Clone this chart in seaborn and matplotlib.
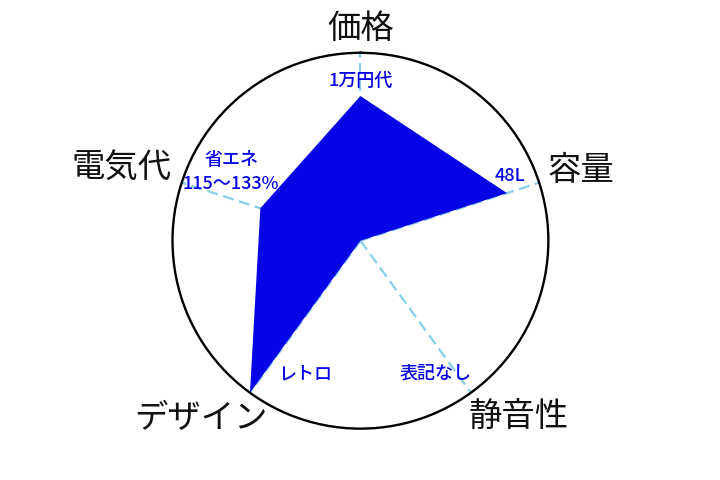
import numpy as np
import matplotlib
matplotlib.use("Agg")
import matplotlib.pyplot as plt
import seaborn as sns

# ---- data ----
categories = ["価格", "容量", "静音性", "デザイン", "電気代"]
values = [0.77, 0.82, 0.0, 1.0, 0.56]
value_labels = ["1万円代", "48L", "表記なし", "レトロ", "省エネ\n115〜133%"]
r_max = 1.0

sns.set_theme(style="white")
plt.rcParams["font.family"] = ["Noto Sans CJK JP", "DejaVu Sans"]

fig = plt.figure(figsize=(7.2, 4.8), dpi=100)
ax = fig.add_axes([0.2396, 0.107, 0.522, 0.783], polar=True)
ax.set_theta_offset(np.pi / 2)
ax.set_theta_direction(-1)

n = len(categories)
theta = np.arange(n) * 2 * np.pi / n

# axis spokes
for t in theta:
    sns.lineplot(x=[t, t], y=[0, r_max], ax=ax, color="#87CEEB",
                 linewidth=1.6, linestyle=(0, (5, 2.5)), legend=False,
                 estimator=None, sort=False)

# filled polygon
ax.fill(np.append(theta, theta[0]), np.append(values, values[0]),
        color="#0505E6", linewidth=0, zorder=3)

ax.set_ylim(0, r_max)
ax.set_xticks([])
ax.set_yticks([])
ax.grid(False)
ax.spines["polar"].set_color("black")
ax.spines["polar"].set_linewidth(1.7)
ax.set_facecolor("white")

# category label positions (angle deg clockwise from top, radius)
cat_pos = [(0, 1.13), (72.4, 1.23), (138, 1.26), (222, 1.27), (287, 1.33)]
for lab, (a, r) in zip(categories, cat_pos):
    ax.text(np.deg2rad(a), r * r_max, lab, ha="center", va="center",
            fontsize=24, color="#111111", clip_on=False)

val_pos = [(0, 0.85), (66.6, 0.87), (150.6, 0.81), (202.5, 0.77), (298, 0.78)]
for lab, (a, r) in zip(value_labels, val_pos):
    ax.text(np.deg2rad(a), r * r_max, lab, ha="center", va="center",
            fontsize=13, fontweight="medium", color="#0505E6",
            linespacing=1.4, clip_on=False, zorder=5)

fig.savefig("out.png", dpi=100, facecolor="white")
